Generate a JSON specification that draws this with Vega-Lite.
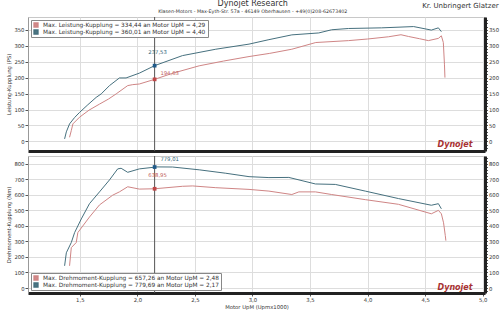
{
"$schema": "https://vega.github.io/schema/vega-lite/v6.json",
"background": "white",
"padding": {"left": 6, "right": 1, "top": 0, "bottom": 2},
"config": {
  "font": "DejaVu Sans",
  "view": {"stroke": "#c8c8c8", "strokeWidth": 1},
  "axis": {"labelFontSize": 5.3, "titleFontSize": 5.3, "labelColor": "#333", "titleColor": "#333", "gridColor": "#dddddd", "domainColor": "#999", "tickColor": "#555", "titleFontWeight": "normal"},
  "legend": {"symbolSize": 8, "labelFontSize": 5.8},
  "style": {"guide-label": {"fontSize": 5.8}},
  "title": {"color": "#333"}
},
"title": {"text": "Dynojet Research", "subtitle": "Klasen-Motors   -   Max-Eyth-Str. 57a   -   46149 Oberhausen   -   +49(0)208-62673402", "fontSize": 8, "fontWeight": "normal", "subtitleFontSize": 4.8, "subtitleColor": "#333", "subtitlePadding": 1, "anchor": "middle", "offset": -13},
"datasets": {
  "power": [
    {"run":"A","rpm":1.411,"v":13},{"run":"A","rpm":1.426,"v":34},{"run":"A","rpm":1.44,"v":55},{"run":"A","rpm":1.498,"v":76},{"run":"A","rpm":1.58,"v":98},{"run":"A","rpm":1.671,"v":117},{"run":"A","rpm":1.75,"v":133},{"run":"A","rpm":1.816,"v":149},{"run":"A","rpm":1.916,"v":175},{"run":"A","rpm":1.96,"v":178},{"run":"A","rpm":2.017,"v":180},{"run":"A","rpm":2.15,"v":194.6},{"run":"A","rpm":2.3,"v":213},{"run":"A","rpm":2.537,"v":237},{"run":"A","rpm":2.75,"v":252},{"run":"A","rpm":2.97,"v":266},{"run":"A","rpm":3.15,"v":276},{"run":"A","rpm":3.342,"v":289},{"run":"A","rpm":3.55,"v":310},{"run":"A","rpm":3.835,"v":316},{"run":"A","rpm":4.0,"v":321},{"run":"A","rpm":4.182,"v":328},{"run":"A","rpm":4.29,"v":334.4},{"run":"A","rpm":4.355,"v":329},{"run":"A","rpm":4.45,"v":322},{"run":"A","rpm":4.528,"v":316},{"run":"A","rpm":4.615,"v":323},{"run":"A","rpm":4.641,"v":331},{"run":"A","rpm":4.658,"v":310},{"run":"A","rpm":4.668,"v":240},{"run":"A","rpm":4.672,"v":200},
    {"run":"B","rpm":1.368,"v":8},{"run":"B","rpm":1.383,"v":30},{"run":"B","rpm":1.411,"v":55},{"run":"B","rpm":1.455,"v":75},{"run":"B","rpm":1.498,"v":91},{"run":"B","rpm":1.57,"v":115},{"run":"B","rpm":1.642,"v":138},{"run":"B","rpm":1.686,"v":149},{"run":"B","rpm":1.758,"v":175},{"run":"B","rpm":1.844,"v":199},{"run":"B","rpm":1.902,"v":199},{"run":"B","rpm":2.017,"v":214},{"run":"B","rpm":2.15,"v":237.5},{"run":"B","rpm":2.392,"v":269},{"run":"B","rpm":2.681,"v":289},{"run":"B","rpm":2.97,"v":305},{"run":"B","rpm":3.143,"v":319},{"run":"B","rpm":3.342,"v":334},{"run":"B","rpm":3.576,"v":340},{"run":"B","rpm":3.688,"v":350},{"run":"B","rpm":3.835,"v":354},{"run":"B","rpm":4.121,"v":356},{"run":"B","rpm":4.4,"v":360},{"run":"B","rpm":4.554,"v":349},{"run":"B","rpm":4.615,"v":356},{"run":"B","rpm":4.641,"v":344}
  ],
  "torque": [
    {"run":"A","rpm":1.411,"v":143},{"run":"A","rpm":1.426,"v":260},{"run":"A","rpm":1.469,"v":293},{"run":"A","rpm":1.483,"v":357},{"run":"A","rpm":1.584,"v":457},{"run":"A","rpm":1.671,"v":535},{"run":"A","rpm":1.786,"v":598},{"run":"A","rpm":1.844,"v":619},{"run":"A","rpm":1.916,"v":652},{"run":"A","rpm":2.017,"v":637},{"run":"A","rpm":2.15,"v":639},{"run":"A","rpm":2.392,"v":655},{"run":"A","rpm":2.48,"v":657.3},{"run":"A","rpm":2.681,"v":646},{"run":"A","rpm":2.97,"v":635},{"run":"A","rpm":3.143,"v":624},{"run":"A","rpm":3.342,"v":602},{"run":"A","rpm":3.403,"v":619},{"run":"A","rpm":3.547,"v":619},{"run":"A","rpm":3.688,"v":602},{"run":"A","rpm":3.98,"v":569},{"run":"A","rpm":4.268,"v":539},{"run":"A","rpm":4.554,"v":478},{"run":"A","rpm":4.615,"v":500},{"run":"A","rpm":4.641,"v":478},{"run":"A","rpm":4.66,"v":420},{"run":"A","rpm":4.675,"v":338},{"run":"A","rpm":4.68,"v":305},
    {"run":"B","rpm":1.368,"v":143},{"run":"B","rpm":1.383,"v":227},{"run":"B","rpm":1.426,"v":293},{"run":"B","rpm":1.455,"v":357},{"run":"B","rpm":1.513,"v":445},{"run":"B","rpm":1.584,"v":543},{"run":"B","rpm":1.671,"v":619},{"run":"B","rpm":1.758,"v":696},{"run":"B","rpm":1.829,"v":767},{"run":"B","rpm":1.859,"v":771},{"run":"B","rpm":1.916,"v":745},{"run":"B","rpm":2.017,"v":767},{"run":"B","rpm":2.17,"v":779.7},{"run":"B","rpm":2.306,"v":779},{"run":"B","rpm":2.537,"v":761},{"run":"B","rpm":2.768,"v":739},{"run":"B","rpm":2.97,"v":717},{"run":"B","rpm":3.143,"v":711},{"run":"B","rpm":3.316,"v":712},{"run":"B","rpm":3.547,"v":670},{"run":"B","rpm":3.72,"v":667},{"run":"B","rpm":3.98,"v":624},{"run":"B","rpm":4.268,"v":576},{"run":"B","rpm":4.554,"v":533},{"run":"B","rpm":4.615,"v":543},{"run":"B","rpm":4.641,"v":510}
  ],
  "markP": [{"run":"A","rpm":2.15,"v":194.6},{"run":"B","rpm":2.15,"v":237.5}],
  "markT": [{"run":"A","rpm":2.15,"v":639},{"run":"B","rpm":2.15,"v":779}],
  "labP": [{"run":"A","rpm":2.2,"v":214,"t":"194,63"},{"run":"B","rpm":2.095,"v":279,"t":"237,53"}],
  "labT": [{"run":"A","rpm":2.095,"v":730,"t":"638,95"},{"run":"B","rpm":2.2,"v":832,"t":"779,01"}],
  "cursor": [{"rpm":2.15}],
  "logoP": [{"rpm":4.76,"v":-12,"t":"Dynojet"}],
  "logoT": [{"rpm":4.76,"v":2,"t":"Dynojet"}]
},
"spacing": 3,
"resolve": {"scale": {"color": "independent"}, "legend": {"color": "independent"}},
"vconcat": [
  {
    "width": 457, "height": 134,
    "title": {"text": "Kr. Unbringert Glatzer", "anchor": "end", "fontSize": 7, "fontWeight": "normal", "offset": 8},
    "resolve": {"axis": {"y": "independent"}},
    "layer": [
      {
        "data": {"name": "power"},
        "mark": {"type": "line", "strokeWidth": 1},
        "encoding": {
          "x": {"field": "rpm", "type": "quantitative", "scale": {"domain": [1.05, 5.02], "nice": false, "zero": false},
                "axis": {"values": [1.5, 2, 2.5, 3, 3.5, 4, 4.5, 5], "labels": false, "ticks": false, "domainWidth": 3, "domainColor": "#222", "title": null}},
          "y": {"field": "v", "type": "quantitative", "scale": {"domain": [-30, 390], "nice": false, "zero": false},
                "axis": {"orient": "left", "values": [0, 50, 100, 150, 200, 250, 300, 350], "tickSize": 3, "labelPadding": 1, "title": "Leistung-Kupplung (PS)", "titlePadding": 2}},
          "color": {"field": "run", "type": "nominal", "scale": {"domain": ["A", "B"], "range": ["#cf8585", "#46707e"]},
                    "legend": {"orient": "top-left", "title": null, "offset": 3, "padding": 2, "rowPadding": 1, "clipHeight": 6, "labelFontSize": 5.8, "labelColor": "#333", "labelLimit": 400, "labelOffset": 4, "fillColor": "white", "strokeColor": "#888", "cornerRadius": 0, "symbolType": "square", "symbolSize": 8, "symbolStrokeWidth": 2.5,
                               "encode": {"labels": {"update": {"fontSize": {"value": 5.8}}}, "symbols": {"update": {"size": {"value": 8}, "strokeWidth": {"value": 2.5}}}},
                               "labelExpr": "datum.label == 'A' ? 'Max. Leistung-Kupplung = 334,44 an Motor UpM = 4,29' : 'Max. Leistung-Kupplung = 360,01 an Motor UpM = 4,40'"}}
        }
      },
      {
        "data": {"name": "cursor"},
        "mark": {"type": "rule", "color": "#555", "strokeWidth": 1},
        "encoding": {"x": {"field": "rpm", "type": "quantitative"}}
      },
      {
        "data": {"name": "markP"},
        "mark": {"type": "square", "size": 14, "filled": true, "opacity": 1},
        "encoding": {
          "x": {"field": "rpm", "type": "quantitative"},
          "y": {"field": "v", "type": "quantitative", "axis": null},
          "color": {"condition": {"test": "datum.run == 'A'", "value": "#c04848"}, "value": "#1f5a8a"}
        }
      },
      {
        "data": {"name": "labP"},
        "mark": {"type": "text", "fontSize": 5.3, "align": "left", "baseline": "middle"},
        "encoding": {
          "x": {"field": "rpm", "type": "quantitative"},
          "y": {"field": "v", "type": "quantitative", "axis": null},
          "text": {"field": "t"},
          "color": {"condition": {"test": "datum.run == 'A'", "value": "#c05a5a"}, "value": "#2f5f78"}
        }
      },
      {
        "data": {"name": "logoP"},
        "mark": {"type": "text", "fontSize": 8, "fontStyle": "italic", "fontWeight": "bold", "color": "#a83232"},
        "encoding": {
          "x": {"field": "rpm", "type": "quantitative"},
          "y": {"field": "v", "type": "quantitative", "scale": {"domain": [-30, 390], "nice": false, "zero": false},
                "axis": {"orient": "right", "values": [-20,-10,0,10,20,30,40,50,60,70,80,90,100,110,120,130,140,150,160,170,180,190,200,210,220,230,240,250,260,270,280,290,300,310,320,330,340,350,360,370,380],
                         "labelExpr": "datum.value % 50 == 0 && datum.value >= 0 ? datum.value : ''", "labelOverlap": false, "tickSize": 2.5, "labelPadding": 1, "domainWidth": 3, "domainColor": "#222", "grid": false, "title": null}},
          "text": {"field": "t"}
        }
      }
    ]
  },
  {
    "width": 457, "height": 137,
    "resolve": {"axis": {"y": "independent"}},
    "layer": [
      {
        "data": {"name": "torque"},
        "mark": {"type": "line", "strokeWidth": 1},
        "encoding": {
          "x": {"field": "rpm", "type": "quantitative", "scale": {"domain": [1.05, 5.02], "nice": false, "zero": false},
                "axis": {"values": [1.5, 2.0, 2.5, 3.0, 3.5, 4.0, 4.5, 5.0],
                         "labelExpr": "replace(format(datum.value, '.1f'), '.', ',')",
                         "labelOverlap": false, "labelFlush": false,
                         "tickSize": 3, "labelPadding": 1, "domainWidth": 3, "domainColor": "#222", "title": "Motor UpM (Upmx1000)", "titlePadding": 2}},
          "y": {"field": "v", "type": "quantitative", "scale": {"domain": [-32, 850], "nice": false, "zero": false},
                "axis": {"orient": "left", "values": [0, 100, 200, 300, 400, 500, 600, 700, 800], "tickSize": 3, "labelPadding": 1, "title": "Drehmoment-Kupplung (Nm)", "titlePadding": 2}},
          "color": {"field": "run", "type": "nominal", "scale": {"domain": ["A", "B"], "range": ["#cf8585", "#46707e"]},
                    "legend": {"orient": "bottom-left", "title": null, "offset": 3, "padding": 2, "rowPadding": 1, "clipHeight": 6, "labelFontSize": 5.8, "labelColor": "#333", "labelLimit": 400, "labelOffset": 4, "fillColor": "white", "strokeColor": "#888", "cornerRadius": 0, "symbolType": "square", "symbolSize": 8, "symbolStrokeWidth": 2.5,
                               "encode": {"labels": {"update": {"fontSize": {"value": 5.8}}}, "symbols": {"update": {"size": {"value": 8}, "strokeWidth": {"value": 2.5}}}},
                               "labelExpr": "datum.label == 'A' ? 'Max. Drehmoment-Kupplung = 657,26 an Motor UpM = 2,48' : 'Max. Drehmoment-Kupplung = 779,69 an Motor UpM = 2,17'"}}
        }
      },
      {
        "data": {"name": "cursor"},
        "mark": {"type": "rule", "color": "#555", "strokeWidth": 1},
        "encoding": {"x": {"field": "rpm", "type": "quantitative"}}
      },
      {
        "data": {"name": "markT"},
        "mark": {"type": "square", "size": 14, "filled": true, "opacity": 1},
        "encoding": {
          "x": {"field": "rpm", "type": "quantitative"},
          "y": {"field": "v", "type": "quantitative", "axis": null},
          "color": {"condition": {"test": "datum.run == 'A'", "value": "#c04848"}, "value": "#1f5a8a"}
        }
      },
      {
        "data": {"name": "labT"},
        "mark": {"type": "text", "fontSize": 5.3, "align": "left", "baseline": "middle"},
        "encoding": {
          "x": {"field": "rpm", "type": "quantitative"},
          "y": {"field": "v", "type": "quantitative", "axis": null},
          "text": {"field": "t"},
          "color": {"condition": {"test": "datum.run == 'A'", "value": "#c05a5a"}, "value": "#2f5f78"}
        }
      },
      {
        "data": {"name": "logoT"},
        "mark": {"type": "text", "fontSize": 8, "fontStyle": "italic", "fontWeight": "bold", "color": "#a83232"},
        "encoding": {
          "x": {"field": "rpm", "type": "quantitative"},
          "y": {"field": "v", "type": "quantitative", "scale": {"domain": [-32, 850], "nice": false, "zero": false},
                "axis": {"orient": "right", "values": [-20,0,20,40,60,80,100,120,140,160,180,200,220,240,260,280,300,320,340,360,380,400,420,440,460,480,500,520,540,560,580,600,620,640,660,680,700,720,740,760,780,800,820,840],
                         "labelExpr": "datum.value % 100 == 0 && datum.value >= 0 ? datum.value : ''", "labelOverlap": false, "tickSize": 2.5, "labelPadding": 1, "domainWidth": 3, "domainColor": "#222", "grid": false, "title": null}},
          "text": {"field": "t"}
        }
      }
    ]
  }
]
}
